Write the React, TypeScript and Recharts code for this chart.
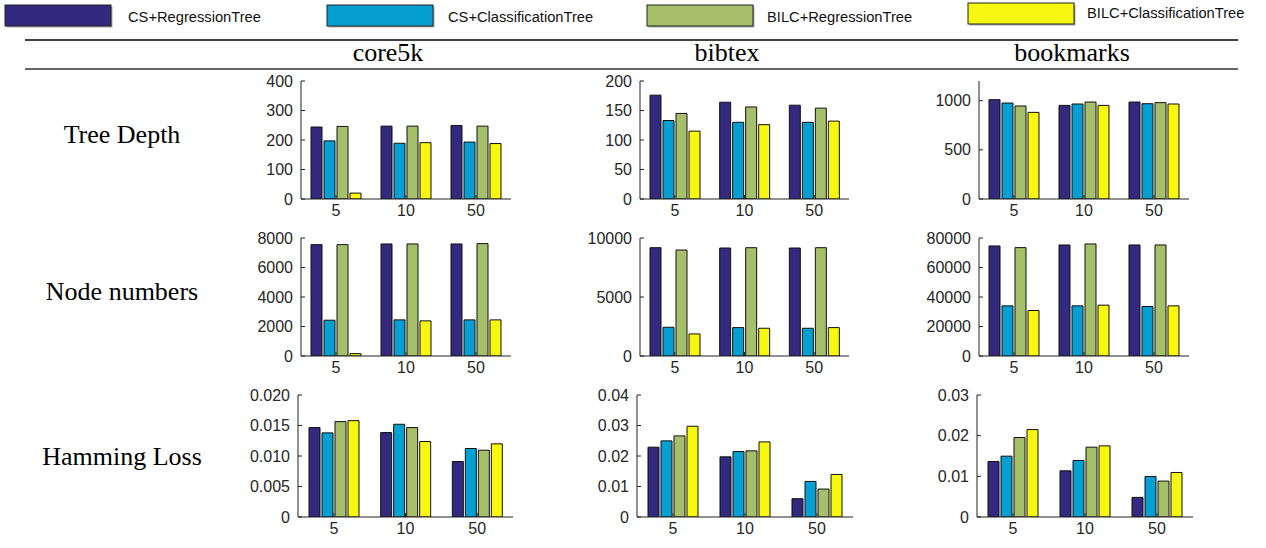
import React from 'react';
import { BarChart, Bar, XAxis, YAxis } from 'recharts';

// ---------- data ----------
const categories = ['5', '10', '50'];
const seriesNames = ['CS+RegressionTree', 'CS+ClassificationTree', 'BILC+RegressionTree', 'BILC+ClassificationTree'];
const seriesKeys = ['csReg', 'csCls', 'bilcReg', 'bilcCls'];
const seriesColors = ['#33297f', '#069fd2', '#a5bf6a', '#f7f710'];
const datasetNames = ['core5k', 'bibtex', 'bookmarks'];
const metricNames = ['Tree Depth', 'Node numbers', 'Hamming Loss'];

// each row = one category (5, 10, 50): [CS+Reg, CS+Cls, BILC+Reg, BILC+Cls]
const core5kDepth = [[244, 197, 246, 20], [247, 189, 247, 191], [249, 193, 247, 188]];
const bibtexDepth = [[176, 133, 145, 115], [164, 130, 156, 126], [159, 130, 154, 132]];
const bookmarksDepth = [[1010, 976, 946, 881], [952, 966, 986, 952], [986, 969, 980, 966]];

const core5kNodes = [[7550, 2426, 7550, 160], [7596, 2449, 7596, 2381], [7596, 2449, 7620, 2449]];
const bibtexNodes = [[9178, 2436, 8980, 1870], [9150, 2408, 9178, 2351], [9150, 2351, 9178, 2408]];
const bookmarksNodes = [[74600, 34000, 73470, 30840], [75280, 34000, 75960, 34470], [75280, 33560, 75280, 34000]];

const core5kHamming = [[0.01466, 0.01379, 0.01564, 0.0158], [0.01384, 0.0152, 0.01466, 0.01237], [0.0091, 0.01123, 0.01095, 0.01199]];
const bibtexHamming = [[0.02289, 0.02496, 0.02659, 0.02975], [0.01973, 0.02147, 0.02169, 0.02463], [0.006, 0.01166, 0.00916, 0.01395]];
const bookmarksHamming = [[0.01365, 0.01496, 0.01954, 0.0215], [0.01136, 0.0139, 0.01717, 0.01749], [0.00482, 0.00997, 0.00883, 0.01095]];

// y-axis ticks and labels
const core5kDepthTicks = [0, 100, 200, 300, 400];
const core5kDepthLabels = ['0', '100', '200', '300', '400'];
const bibtexDepthTicks = [0, 50, 100, 150, 200];
const bibtexDepthLabels = ['0', '50', '100', '150', '200'];
const bookmarksDepthTicks = [0, 500, 1000];
const bookmarksDepthLabels = ['0', '500', '1000'];
const core5kNodesTicks = [0, 2000, 4000, 6000, 8000];
const core5kNodesLabels = ['0', '2000', '4000', '6000', '8000'];
const bibtexNodesTicks = [0, 5000, 10000];
const bibtexNodesLabels = ['0', '5000', '10000'];
const bookmarksNodesTicks = [0, 20000, 40000, 60000, 80000];
const bookmarksNodesLabels = ['0', '20000', '40000', '60000', '80000'];
const core5kHammingTicks = [0, 0.005, 0.01, 0.015, 0.02];
const core5kHammingLabels = ['0', '0.005', '0.010', '0.015', '0.020'];
const bibtexHammingTicks = [0, 0.01, 0.02, 0.03, 0.04];
const bibtexHammingLabels = ['0', '0.01', '0.02', '0.03', '0.04'];
const bookmarksHammingTicks = [0, 0.01, 0.02, 0.03];
const bookmarksHammingLabels = ['0', '0.01', '0.02', '0.03'];

// y-axis maxima
const core5kDepthMax = 400;
const bibtexDepthMax = 200;
const bookmarksDepthMax = 1200;
const core5kNodesMax = 8000;
const bibtexNodesMax = 10000;
const bookmarksNodesMax = 80000;
const core5kHammingMax = 0.02;
const bibtexHammingMax = 0.04;
const bookmarksHammingMax = 0.03;

// ---------- layout ----------
const SANS = "'Liberation Sans', Arial, Helvetica, sans-serif";
const SERIF = "'Liberation Serif', 'Times New Roman', serif";
const TICK_COLOR = '#262626';

const rowRects = [
  { y: 81, h: 118, cols: [{ x: 301, w: 210 }, { x: 640, w: 209 }, { x: 979, w: 210 }] },
  { y: 238, h: 118, cols: [{ x: 301, w: 210 }, { x: 640, w: 209 }, { x: 979, w: 210 }] },
  { y: 395, h: 122, cols: [{ x: 298, w: 215 }, { x: 637, w: 216 }, { x: 977, w: 216 }] },
];

const toRows = (vals: number[][]) =>
  categories.map((c, i) => {
    const row: any = { cat: c };
    seriesKeys.forEach((k, j) => (row[k] = vals[i][j]));
    return row;
  });

const panels = [
  [
    { data: toRows(core5kDepth), ticks: core5kDepthTicks, labels: core5kDepthLabels, max: core5kDepthMax },
    { data: toRows(bibtexDepth), ticks: bibtexDepthTicks, labels: bibtexDepthLabels, max: bibtexDepthMax },
    { data: toRows(bookmarksDepth), ticks: bookmarksDepthTicks, labels: bookmarksDepthLabels, max: bookmarksDepthMax },
  ],
  [
    { data: toRows(core5kNodes), ticks: core5kNodesTicks, labels: core5kNodesLabels, max: core5kNodesMax },
    { data: toRows(bibtexNodes), ticks: bibtexNodesTicks, labels: bibtexNodesLabels, max: bibtexNodesMax },
    { data: toRows(bookmarksNodes), ticks: bookmarksNodesTicks, labels: bookmarksNodesLabels, max: bookmarksNodesMax },
  ],
  [
    { data: toRows(core5kHamming), ticks: core5kHammingTicks, labels: core5kHammingLabels, max: core5kHammingMax },
    { data: toRows(bibtexHamming), ticks: bibtexHammingTicks, labels: bibtexHammingLabels, max: bibtexHammingMax },
    { data: toRows(bookmarksHamming), ticks: bookmarksHammingTicks, labels: bookmarksHammingLabels, max: bookmarksHammingMax },
  ],
];

const YAX_W = 60;
const M_TOP = 10;
const M_RIGHT = 10;
const XAX_H = 30;
const TICK_FS = 16;

function Panel({ cfg, rect, y, h }: any) {
  const width = YAX_W + rect.w + M_RIGHT;
  const height = M_TOP + h + XAX_H;
  const labelFor = (v: number) => {
    const i = cfg.ticks.indexOf(v);
    return i >= 0 ? cfg.labels[i] : String(v);
  };
  const leftTick = (p: any) => (
    <g>
      <line x1={p.x} x2={p.x + 4} y1={p.y} y2={p.y} stroke="#222" strokeWidth={1} />
      <text x={p.x - 8} y={p.y} dy={5.5} textAnchor="end" fontSize={TICK_FS} fontFamily={SANS} fill={TICK_COLOR}>
        {labelFor(p.payload.value)}
      </text>
    </g>
  );
  const rightTick = (p: any) => (
    <line x1={p.x} x2={p.x - 4} y1={p.y} y2={p.y} stroke="#555" strokeWidth={1} />
  );
  const bottomTick = (p: any) => (
    <g>
      <line x1={p.x} x2={p.x} y1={p.y} y2={p.y - 4} stroke="#222" strokeWidth={1} />
      <text x={p.x} y={p.y + 16.5} textAnchor="middle" fontSize={TICK_FS} fontFamily={SANS} fill={TICK_COLOR}>
        {p.payload.value}
      </text>
    </g>
  );
  const topTick = (p: any) => (
    <line x1={p.x} x2={p.x} y1={p.y} y2={p.y + 4} stroke="#444" strokeWidth={1} />
  );
  return (
    <div style={{ position: 'absolute', left: rect.x - YAX_W, top: y - M_TOP, width, height }}>
      <BarChart
        width={width}
        height={height}
        data={cfg.data}
        margin={{ top: M_TOP, right: M_RIGHT, bottom: 0, left: 0 }}
        barSize={11}
        barGap={2}
      >
        <XAxis
          dataKey="cat"
          type="category"
          height={XAX_H}
          interval={0}
          tickSize={0}
          tickMargin={0}
          axisLine={{ stroke: '#222', strokeWidth: 1 }}
          tickLine={false}
          tick={bottomTick}
        />
        <XAxis
          xAxisId="top"
          dataKey="cat"
          type="category"
          orientation="top"
          height={0}
          interval={0}
          tickSize={0}
          tickMargin={0}
          axisLine={{ stroke: '#444', strokeWidth: 1 }}
          tickLine={false}
          tick={topTick}
        />
        <YAxis
          type="number"
          domain={[0, cfg.max]}
          ticks={cfg.ticks}
          interval={0}
          allowDataOverflow
          width={YAX_W}
          tickSize={0}
          tickMargin={0}
          axisLine={{ stroke: '#222', strokeWidth: 1 }}
          tickLine={false}
          tick={leftTick}
        />
        <YAxis
          yAxisId="right"
          orientation="right"
          type="number"
          domain={[0, cfg.max]}
          ticks={cfg.ticks}
          interval={0}
          allowDataOverflow
          width={0}
          tickSize={0}
          tickMargin={0}
          axisLine={{ stroke: '#666', strokeWidth: 1 }}
          tickLine={false}
          tick={rightTick}
        />
        {seriesKeys.map((k, i) => (
          <Bar
            key={k}
            dataKey={k}
            name={seriesNames[i]}
            fill={seriesColors[i]}
            stroke="#111"
            strokeWidth={1}
            isAnimationActive={false}
          />
        ))}
      </BarChart>
    </div>
  );
}

const legendPos = [
  { sx: 5, sy: 5, lx: 128, ly: 22 },
  { sx: 327, sy: 5, lx: 448, ly: 22 },
  { sx: 647, sy: 5, lx: 767, ly: 22 },
  { sx: 968, sy: 3, lx: 1087, ly: 18 },
];
const headerX = [388, 727, 1072];
const rowLabelY = [143, 300, 465];

export default function App() {
  return (
    <div style={{ position: 'absolute', left: 0, top: 0, width: 1266, height: 548, background: '#fff', overflow: 'hidden' }}>
      <svg width={1266} height={548} style={{ position: 'absolute', left: 0, top: 0 }}>
        {seriesNames.map((n, i) => (
          <g key={n}>
            <rect x={legendPos[i].sx + 1.5} y={legendPos[i].sy + 1.5} width={106} height={21} fill="#aaa" />
            <rect x={legendPos[i].sx} y={legendPos[i].sy} width={106} height={21} fill={seriesColors[i]} stroke="#222" strokeWidth={1} />
            <text x={legendPos[i].lx} y={legendPos[i].ly} fontSize={14.7} fontFamily={SANS} fill="#111">
              {n}
            </text>
          </g>
        ))}
        <line x1={25} x2={1238} y1={40} y2={40} stroke="#000" strokeWidth={1.5} />
        <line x1={25} x2={1238} y1={69} y2={69} stroke="#333" strokeWidth={1.5} />
        {datasetNames.map((d, i) => (
          <text key={d} x={headerX[i]} y={61} textAnchor="middle" fontSize={26} fontFamily={SERIF} fill="#000">
            {d}
          </text>
        ))}
        {metricNames.map((m, i) => (
          <text key={m} x={122} y={rowLabelY[i]} textAnchor="middle" fontSize={26} fontFamily={SERIF} fill="#000">
            {m}
          </text>
        ))}
      </svg>
      {panels.map((row, ri) =>
        row.map((cfg, ci) => (
          <Panel key={`${ri}-${ci}`} cfg={cfg} rect={rowRects[ri].cols[ci]} y={rowRects[ri].y} h={rowRects[ri].h} />
        ))
      )}
    </div>
  );
}
